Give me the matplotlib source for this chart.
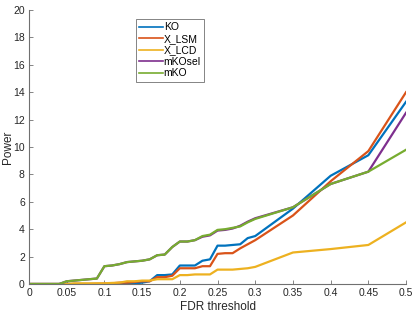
import numpy as np
import matplotlib.pyplot as plt

plt.rcParams["font.family"] = ["Liberation Sans", "DejaVu Sans"]

fdr = [0.0, 0.01, 0.02, 0.03, 0.04, 0.05, 0.06, 0.07, 0.08, 0.09, 0.10,
       0.11, 0.12, 0.13, 0.14, 0.15, 0.16, 0.17, 0.18, 0.19, 0.20,
       0.21, 0.22, 0.23, 0.24, 0.25, 0.26, 0.27, 0.28, 0.29, 0.30,
       0.35, 0.40, 0.45, 0.50]

ko = [0, 0, 0, 0, 0, 0, 0, 0, 0, 0, 0,
      0, 0, 0, 0.05, 0.1, 0.2, 0.65, 0.65, 0.7, 1.35,
      1.35, 1.35, 1.7, 1.8, 2.8, 2.8, 2.85, 2.9, 3.35, 3.5,
      5.5, 7.9, 9.4, 13.3]
x_lsm = [0, 0, 0, 0, 0, 0, 0, 0, 0, 0.02, 0.03,
         0.05, 0.1, 0.1, 0.15, 0.2, 0.2, 0.5, 0.5, 0.6, 1.15,
         1.15, 1.15, 1.3, 1.3, 2.2, 2.25, 2.25, 2.6, 2.9, 3.2,
         5.0, 7.5, 9.7, 14.0]
x_lcd = [0, 0, 0, 0, 0, 0, 0.05, 0.05, 0.05, 0.05, 0.05,
         0.08, 0.1, 0.2, 0.2, 0.25, 0.25, 0.35, 0.35, 0.35, 0.65,
         0.65, 0.7, 0.7, 0.7, 1.05, 1.05, 1.05, 1.1, 1.15, 1.25,
         2.3, 2.55, 2.85, 4.5]
mkosel = [0, 0, 0, 0, 0, 0.2, 0.25, 0.3, 0.35, 0.4, 1.3,
          1.35, 1.45, 1.6, 1.65, 1.7, 1.8, 2.1, 2.15, 2.7, 3.1,
          3.1, 3.2, 3.45, 3.55, 3.9, 3.95, 4.05, 4.25, 4.55, 4.8,
          5.6, 7.3, 8.2, 12.5]
mko = [0, 0, 0, 0, 0, 0.2, 0.25, 0.3, 0.35, 0.4, 1.3,
       1.35, 1.45, 1.6, 1.65, 1.7, 1.8, 2.1, 2.15, 2.7, 3.1,
       3.1, 3.2, 3.5, 3.6, 3.95, 4.0, 4.1, 4.2, 4.5, 4.75,
       5.6, 7.3, 8.2, 9.8]

series = [("KO", ko, "#0072BD"), ("X_LSM", x_lsm, "#D95319"),
          ("X_LCD", x_lcd, "#EDB120"), ("mKOsel", mkosel, "#7E2F8E"),
          ("mKO", mko, "#77AC30")]

fig = plt.figure(figsize=(4.15, 3.12), dpi=100)
ax = fig.add_axes([0.0699, 0.0897, 0.9085, 0.8783])
for name, vals, col in series:
    ax.plot(fdr, vals, color=col, linewidth=1.6, label=name)

ax.set_xlim(0, 0.5)
ax.set_ylim(0, 20)
ax.set_xticks(np.arange(0, 0.51, 0.05))
ax.set_xticklabels(["0", "0.05", "0.1", "0.15", "0.2", "0.25", "0.3",
                    "0.35", "0.4", "0.45", "0.5"])
ax.set_yticks(np.arange(0, 21, 2))
ax.set_xlabel("FDR threshold", fontsize=8.5, color="#262626", labelpad=2)
ax.set_ylabel("Power", fontsize=8.5, color="#262626")
ax.yaxis.set_label_coords(-0.04, 0.5)
ax.tick_params(direction="in", length=3, labelsize=7.5, colors="#262626",
               width=0.6, pad=3)
ax.tick_params(axis="both", color="#707070")
for side in ("top", "right"):
    ax.spines[side].set_visible(False)
for side in ("left", "bottom"):
    ax.spines[side].set_color("#707070")
    ax.spines[side].set_linewidth(0.8)

leg = ax.legend(loc="upper left", bbox_to_anchor=(0.284, 0.967),
                fontsize=7.5, handlelength=2.3, handletextpad=0.05,
                labelspacing=0.15, borderpad=0.3, borderaxespad=0,
                fancybox=False, framealpha=1)
leg.get_frame().set_edgecolor("#707070")
leg.get_frame().set_linewidth(0.6)
for line in leg.get_lines():
    line.set_linewidth(1.2)

fig.savefig("out.png", dpi=100)
